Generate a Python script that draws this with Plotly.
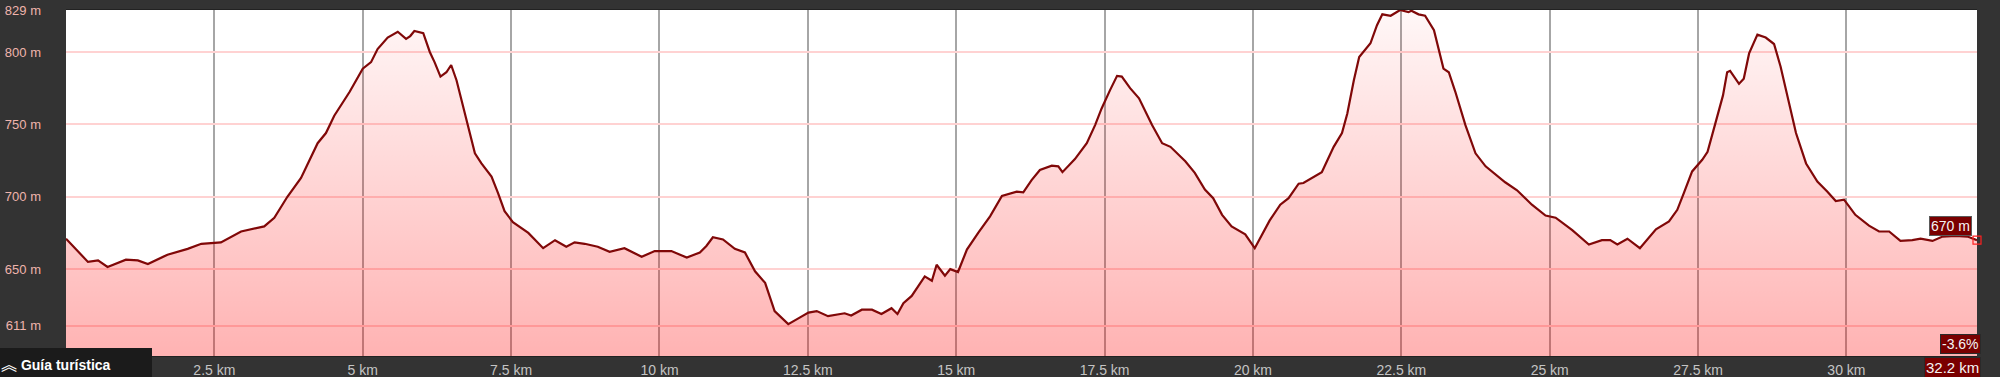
import plotly.graph_objects as go

# ---- data ----
dist_km = [0.00, 0.37, 0.54, 0.70, 1.01, 1.21, 1.38, 1.71, 2.05, 2.28, 2.61, 2.95, 3.34, 3.51, 3.73, 3.96,
           4.24, 4.38, 4.52, 4.78, 5.00, 5.14, 5.25, 5.42, 5.59, 5.73, 5.80, 5.87, 6.02, 6.13, 6.21, 6.31,
           6.41, 6.49, 6.58, 6.66, 6.77, 6.89, 7.00, 7.17, 7.28, 7.39, 7.53, 7.79, 8.04, 8.24, 8.43, 8.57,
           8.74, 8.96, 9.16, 9.41, 9.70, 9.92, 10.20, 10.46, 10.68, 10.79, 10.90, 11.07, 11.27, 11.44,
           11.61, 11.78, 11.94, 12.17, 12.34, 12.51, 12.65, 12.84, 13.12, 13.23, 13.41, 13.58, 13.74,
           13.91, 14.01, 14.11, 14.25, 14.47, 14.59, 14.67, 14.81, 14.90, 15.03, 15.18, 15.37, 15.57,
           15.77, 15.88, 16.02, 16.13, 16.27, 16.41, 16.61, 16.72, 16.79, 17.00, 17.20, 17.34, 17.45,
           17.59, 17.71, 17.79, 17.93, 18.08, 18.30, 18.47, 18.61, 18.86, 19.02, 19.19, 19.33, 19.48,
           19.64, 19.87, 20.03, 20.28, 20.46, 20.60, 20.77, 20.85, 21.16, 21.36, 21.50, 21.59, 21.70,
           21.79, 21.98, 22.09, 22.18, 22.32, 22.48, 22.62, 22.67, 22.79, 22.90, 23.05, 23.13, 23.21,
           23.30, 23.41, 23.58, 23.75, 23.92, 24.03, 24.25, 24.45, 24.70, 24.93, 25.10, 25.38, 25.66,
           25.88, 26.02, 26.14, 26.31, 26.52, 26.79, 27.01, 27.15, 27.26, 27.40, 27.57, 27.66, 27.79,
           27.92, 27.99, 28.04, 28.19, 28.27, 28.36, 28.50, 28.64, 28.78, 28.89, 29.01, 29.15, 29.32,
           29.51, 29.68, 29.82, 29.96, 30.15, 30.38, 30.55, 30.72, 30.91, 31.11, 31.25, 31.45, 31.62,
           31.84, 32.04, 32.20]
elev_m = [671, 655, 656, 651.5, 656.5, 656, 653.5, 660, 664, 667.5, 668.5, 676, 679.5, 685.5, 700, 713,
          737, 744, 756, 772.5, 788.5, 793, 802, 810, 814, 809, 811, 814.5, 813, 800, 793, 783,
          786, 791, 780.5, 767, 748.5, 730, 723, 714, 702.5, 690, 682.5, 675, 664.5, 670, 665.5, 668.5,
          667.5, 665.5, 662, 664.5, 658.5, 662.5, 662.5, 658, 661.5, 666, 672, 670.5, 664, 661.5,
          648.5, 640.5, 621, 612, 616, 620, 621, 617.5, 619.5, 618, 622, 622, 619,
          623, 619, 626.5, 631.5, 645, 642, 653, 645.5, 650, 648, 663.5, 675, 686.5,
          700.5, 702, 703.5, 703, 711.5, 718.5, 721.5, 721, 717, 726, 737, 749.5, 761,
          773.5, 783.5, 783, 775, 768, 749.5, 737, 734.5, 724.5, 716.5, 705, 699, 687.5,
          679.5, 674, 664.5, 683.5, 694.5, 699, 709, 709.5, 717, 734.5, 744, 757.5, 780.5,
          796.5, 806, 818.5, 826, 825, 829, 827.5, 828.5, 826, 825, 815, 801, 788.5,
          786, 772.5, 749.5, 730, 721, 717.5, 710, 704.5, 694.5, 687, 685.5, 677, 667,
          670, 670, 667, 671, 664.5, 677.5, 683, 691, 702.5, 717.5, 725.5, 731, 750.5,
          770, 786, 787, 778, 781.5, 799, 812, 810, 805.5, 790, 769, 744, 723,
          710.5, 703.5, 697, 698, 687.5, 680, 676, 676, 669.5, 670, 671, 669.5, 672.5,
          673, 672.5, 670]

y_ticks = [611, 650, 700, 750, 800, 829]
y_tick_text = ["611 m", "650 m", "700 m", "750 m", "800 m", "829 m"]
x_ticks = [2.5, 5, 7.5, 10, 12.5, 15, 17.5, 20, 22.5, 25, 27.5, 30]
x_tick_text = ["2.5 km", "5 km", "7.5 km", "10 km", "12.5 km", "15 km", "17.5 km", "20 km",
               "22.5 km", "25 km", "27.5 km", "30 km"]
total_km_label = "32.2 km"
slope_label = "-3.6%"
guide_label = "Guía turística"

y_min, y_max = 590, 829
x_max = dist_km[-1]

fig = go.Figure()
fig.add_trace(go.Scatter(
    x=dist_km, y=elev_m, mode="lines",
    line=dict(color="#800808", width=2.2),
    fill="tozeroy",
    fillgradient=dict(type="vertical",
                      colorscale=[[0, "rgba(255,0,0,0.30)"], [1, "rgba(255,0,0,0.03)"]],
                      start=y_min, stop=y_max),
    hoverinfo="skip", showlegend=False,
))
# end point marker
fig.add_trace(go.Scatter(
    x=[dist_km[-1]], y=[elev_m[-1]], mode="markers",
    marker=dict(symbol="square-open", color="#ff2020", size=8, line=dict(width=1.2)),
    cliponaxis=False, hoverinfo="skip", showlegend=False,
))

box_font = dict(family="Arial, Liberation Sans, sans-serif", size=14, color="#f4f4f4")
fig.add_annotation(x=dist_km[-1], y=elev_m[-1], xref="x", yref="y",
                   text=f"{int(round(elev_m[-1]))} m", showarrow=False,
                   xanchor="right", yanchor="bottom", xshift=-5, yshift=4,
                   bgcolor="#7a0000", bordercolor="#5a5a5a", borderwidth=1, borderpad=1,
                   font=box_font)
fig.add_annotation(x=1, y=0, xref="paper", yref="paper", text=slope_label, showarrow=False,
                   xanchor="right", yanchor="bottom", xshift=4, yshift=2,
                   bgcolor="#7a0000", bordercolor="#2a2a2a", borderwidth=1, borderpad=1,
                   font=box_font)
fig.add_annotation(x=1, y=0, xref="paper", yref="paper", text=total_km_label, showarrow=False,
                   xanchor="right", yanchor="top", xshift=4, yshift=-1,
                   bgcolor="#7a0000", bordercolor="#2a2a2a", borderwidth=1, borderpad=1,
                   font=dict(family="Arial, Liberation Sans, sans-serif", size=15, color="#f4f4f4"))
fig.add_annotation(x=0, y=0, xref="paper", yref="paper",
                   text="<span style='font-family:Noto Sans CJK SC;font-size:16px'>︽</span> <b>" + guide_label + "</b>",
                   showarrow=False, xanchor="left", yanchor="top", xshift=-66, yshift=8,
                   width=150, height=27, align="left", valign="middle",
                   bgcolor="#1b1b1b", bordercolor="#1b1b1b", borderwidth=1, borderpad=0,
                   font=dict(family="Arial, Liberation Sans, sans-serif", size=14, color="#ffffff"))

fig.update_layout(
    width=2000, height=377,
    margin=dict(l=66, r=23, t=10, b=21, autoexpand=False),
    paper_bgcolor="#333333", plot_bgcolor="#ffffff",
    xaxis=dict(range=[0, x_max], tickvals=x_ticks, ticktext=x_tick_text, automargin=False,
               showgrid=True, gridcolor="#a6a6a6", gridwidth=1.5,
               zeroline=False, showline=True, linecolor="#222222", linewidth=1, mirror=True,
               ticks="", tickfont=dict(family="Arial, Liberation Sans, sans-serif", size=14, color="#c4c4c4"),
               ticklabelstandoff=1),
    yaxis=dict(range=[y_min, y_max], tickvals=y_ticks, ticktext=y_tick_text, automargin=False,
               showgrid=True, gridcolor="#ffd2d2", gridwidth=1.5,
               zeroline=False, showline=False, ticks="",
               tickfont=dict(family="Arial, Liberation Sans, sans-serif", size=13, color="#efb4ac"),
               ticklabelstandoff=24),
)

fig.write_html("out.html")
